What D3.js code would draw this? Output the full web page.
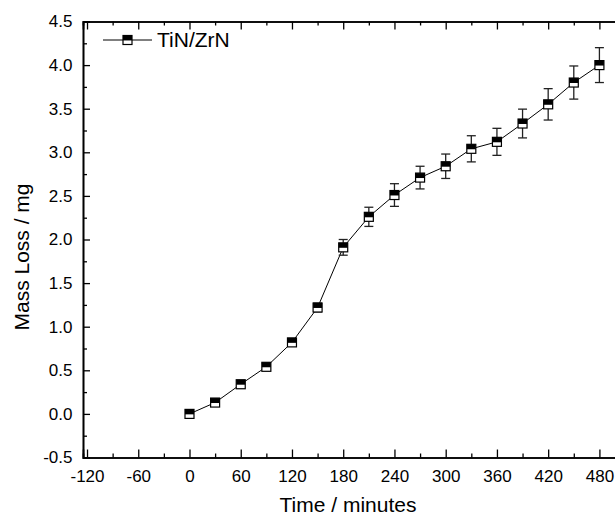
<!DOCTYPE html>
<html lang="en">
<head>
<meta charset="UTF-8">
<title>Mass Loss vs Time</title>
<script src="https://d3js.org/d3.v7.min.js"></script>
<style>
  body { margin: 0; background: #fff; }
  svg { display: block; }
  text { font-family: "Liberation Sans", Arial, sans-serif; fill: #000; }
</style>
</head>
<body>
<svg id="chart" width="615" height="517"></svg>
<script>
// data
const times = [0, 30, 60, 90, 120, 150, 180, 210, 240, 270, 300, 330, 360, 390, 420, 450, 480];
const massLoss = [0.00, 0.13, 0.34, 0.54, 0.82, 1.22, 1.91, 2.26, 2.51, 2.71, 2.84, 3.04, 3.12, 3.33, 3.55, 3.80, 4.00];
const errors = [0.01, 0.03, 0.04, 0.04, 0.04, 0.05, 0.09, 0.11, 0.13, 0.13, 0.14, 0.15, 0.155, 0.165, 0.18, 0.19, 0.2];
const xTicks = [-120, -60, 0, 60, 120, 180, 240, 300, 360, 420, 480];
const yTicks = [-0.5, 0.0, 0.5, 1.0, 1.5, 2.0, 2.5, 3.0, 3.5, 4.0, 4.5];
const seriesName = "TiN/ZrN";

const svg = d3.select("#chart");
const mLeft = 83, mTop = 21.5, mBottom = 457.5;

const x = d3.scaleLinear().domain([-124.7, 520]).range([mLeft, mLeft + 644.7 * 0.854]);
const y = d3.scaleLinear().domain([-0.5, 4.5]).range([mBottom, mTop]);

const minorX = d3.range(-90, 520, 60);
const minorY = d3.range(-0.25, 4.5, 0.5);

// axes (ticks point inward, labels use a plain hyphen)
svg.append("g").attr("transform", `translate(0,${mBottom})`)
  .call(d3.axisBottom(x).tickValues(xTicks).tickSize(-8).tickPadding(12.5).tickFormat(d => String(d)));
svg.append("g").attr("transform", `translate(0,${mTop})`)
  .call(d3.axisTop(x).tickValues(xTicks).tickSize(-8).tickFormat(""));
svg.append("g").attr("transform", `translate(${mLeft},0)`)
  .call(d3.axisLeft(y).tickValues(yTicks).tickSize(-7).tickPadding(10.5).tickFormat(d => d.toFixed(1)));

svg.append("g").attr("transform", `translate(0,${mBottom})`)
  .call(d3.axisBottom(x).tickValues(minorX).tickSize(-4).tickFormat(""));
svg.append("g").attr("transform", `translate(0,${mTop})`)
  .call(d3.axisTop(x).tickValues(minorX).tickSize(-4).tickFormat(""));
svg.append("g").attr("transform", `translate(${mLeft},0)`)
  .call(d3.axisLeft(y).tickValues(minorY).tickSize(-4).tickFormat(""));

svg.selectAll(".domain").attr("stroke", "#000").attr("stroke-width", 1.6);
svg.selectAll(".tick line").attr("stroke", "#000").attr("stroke-width", 1.3);
svg.selectAll(".tick text").style("font-size", "17px");

// axis titles
svg.append("text").attr("x", 348).attr("y", 512).attr("text-anchor", "middle")
  .style("font-size", "21px").text("Time / minutes");
svg.append("text").attr("transform", `translate(29,257) rotate(-90)`).attr("text-anchor", "middle")
  .style("font-size", "21px").text("Mass Loss / mg");

const pts = times.map((t, i) => ({ t, v: massLoss[i], e: errors[i] }));

// connecting line
svg.append("path").datum(pts)
  .attr("fill", "none").attr("stroke", "#000").attr("stroke-width", 1)
  .attr("d", d3.line().x(d => x(d.t)).y(d => y(d.v)));

// error bars
const eb = svg.append("g").attr("stroke", "#222").attr("stroke-width", 1.3);
pts.forEach(d => {
  const cx = x(d.t), y1 = y(d.v + d.e), y2 = y(d.v - d.e);
  eb.append("line").attr("x1", cx).attr("x2", cx).attr("y1", y1).attr("y2", y2);
  eb.append("line").attr("x1", cx - 4.5).attr("x2", cx + 4.5).attr("y1", y1).attr("y2", y1);
  eb.append("line").attr("x1", cx - 4.5).attr("x2", cx + 4.5).attr("y1", y2).attr("y2", y2);
});

// half-filled square markers
function marker(g, cx, cy) {
  const s = 9;
  g.append("rect").attr("x", cx - s / 2).attr("y", cy - s / 2).attr("width", s).attr("height", s)
    .attr("fill", "#fff").attr("stroke", "#000").attr("stroke-width", 1.2);
  g.append("rect").attr("x", cx - s / 2).attr("y", cy - s / 2).attr("width", s).attr("height", s * 0.55)
    .attr("fill", "#000");
}
const mk = svg.append("g");
pts.forEach(d => marker(mk, x(d.t), y(d.v)));

// legend
const lg = svg.append("g");
lg.append("line").attr("x1", 103).attr("x2", 152).attr("y1", 40).attr("y2", 40)
  .attr("stroke", "#000").attr("stroke-width", 1);
marker(lg, 127.5, 40);
lg.append("text").attr("x", 157).attr("y", 47).style("font-size", "21px").text(seriesName);
</script>
</body>
</html>
